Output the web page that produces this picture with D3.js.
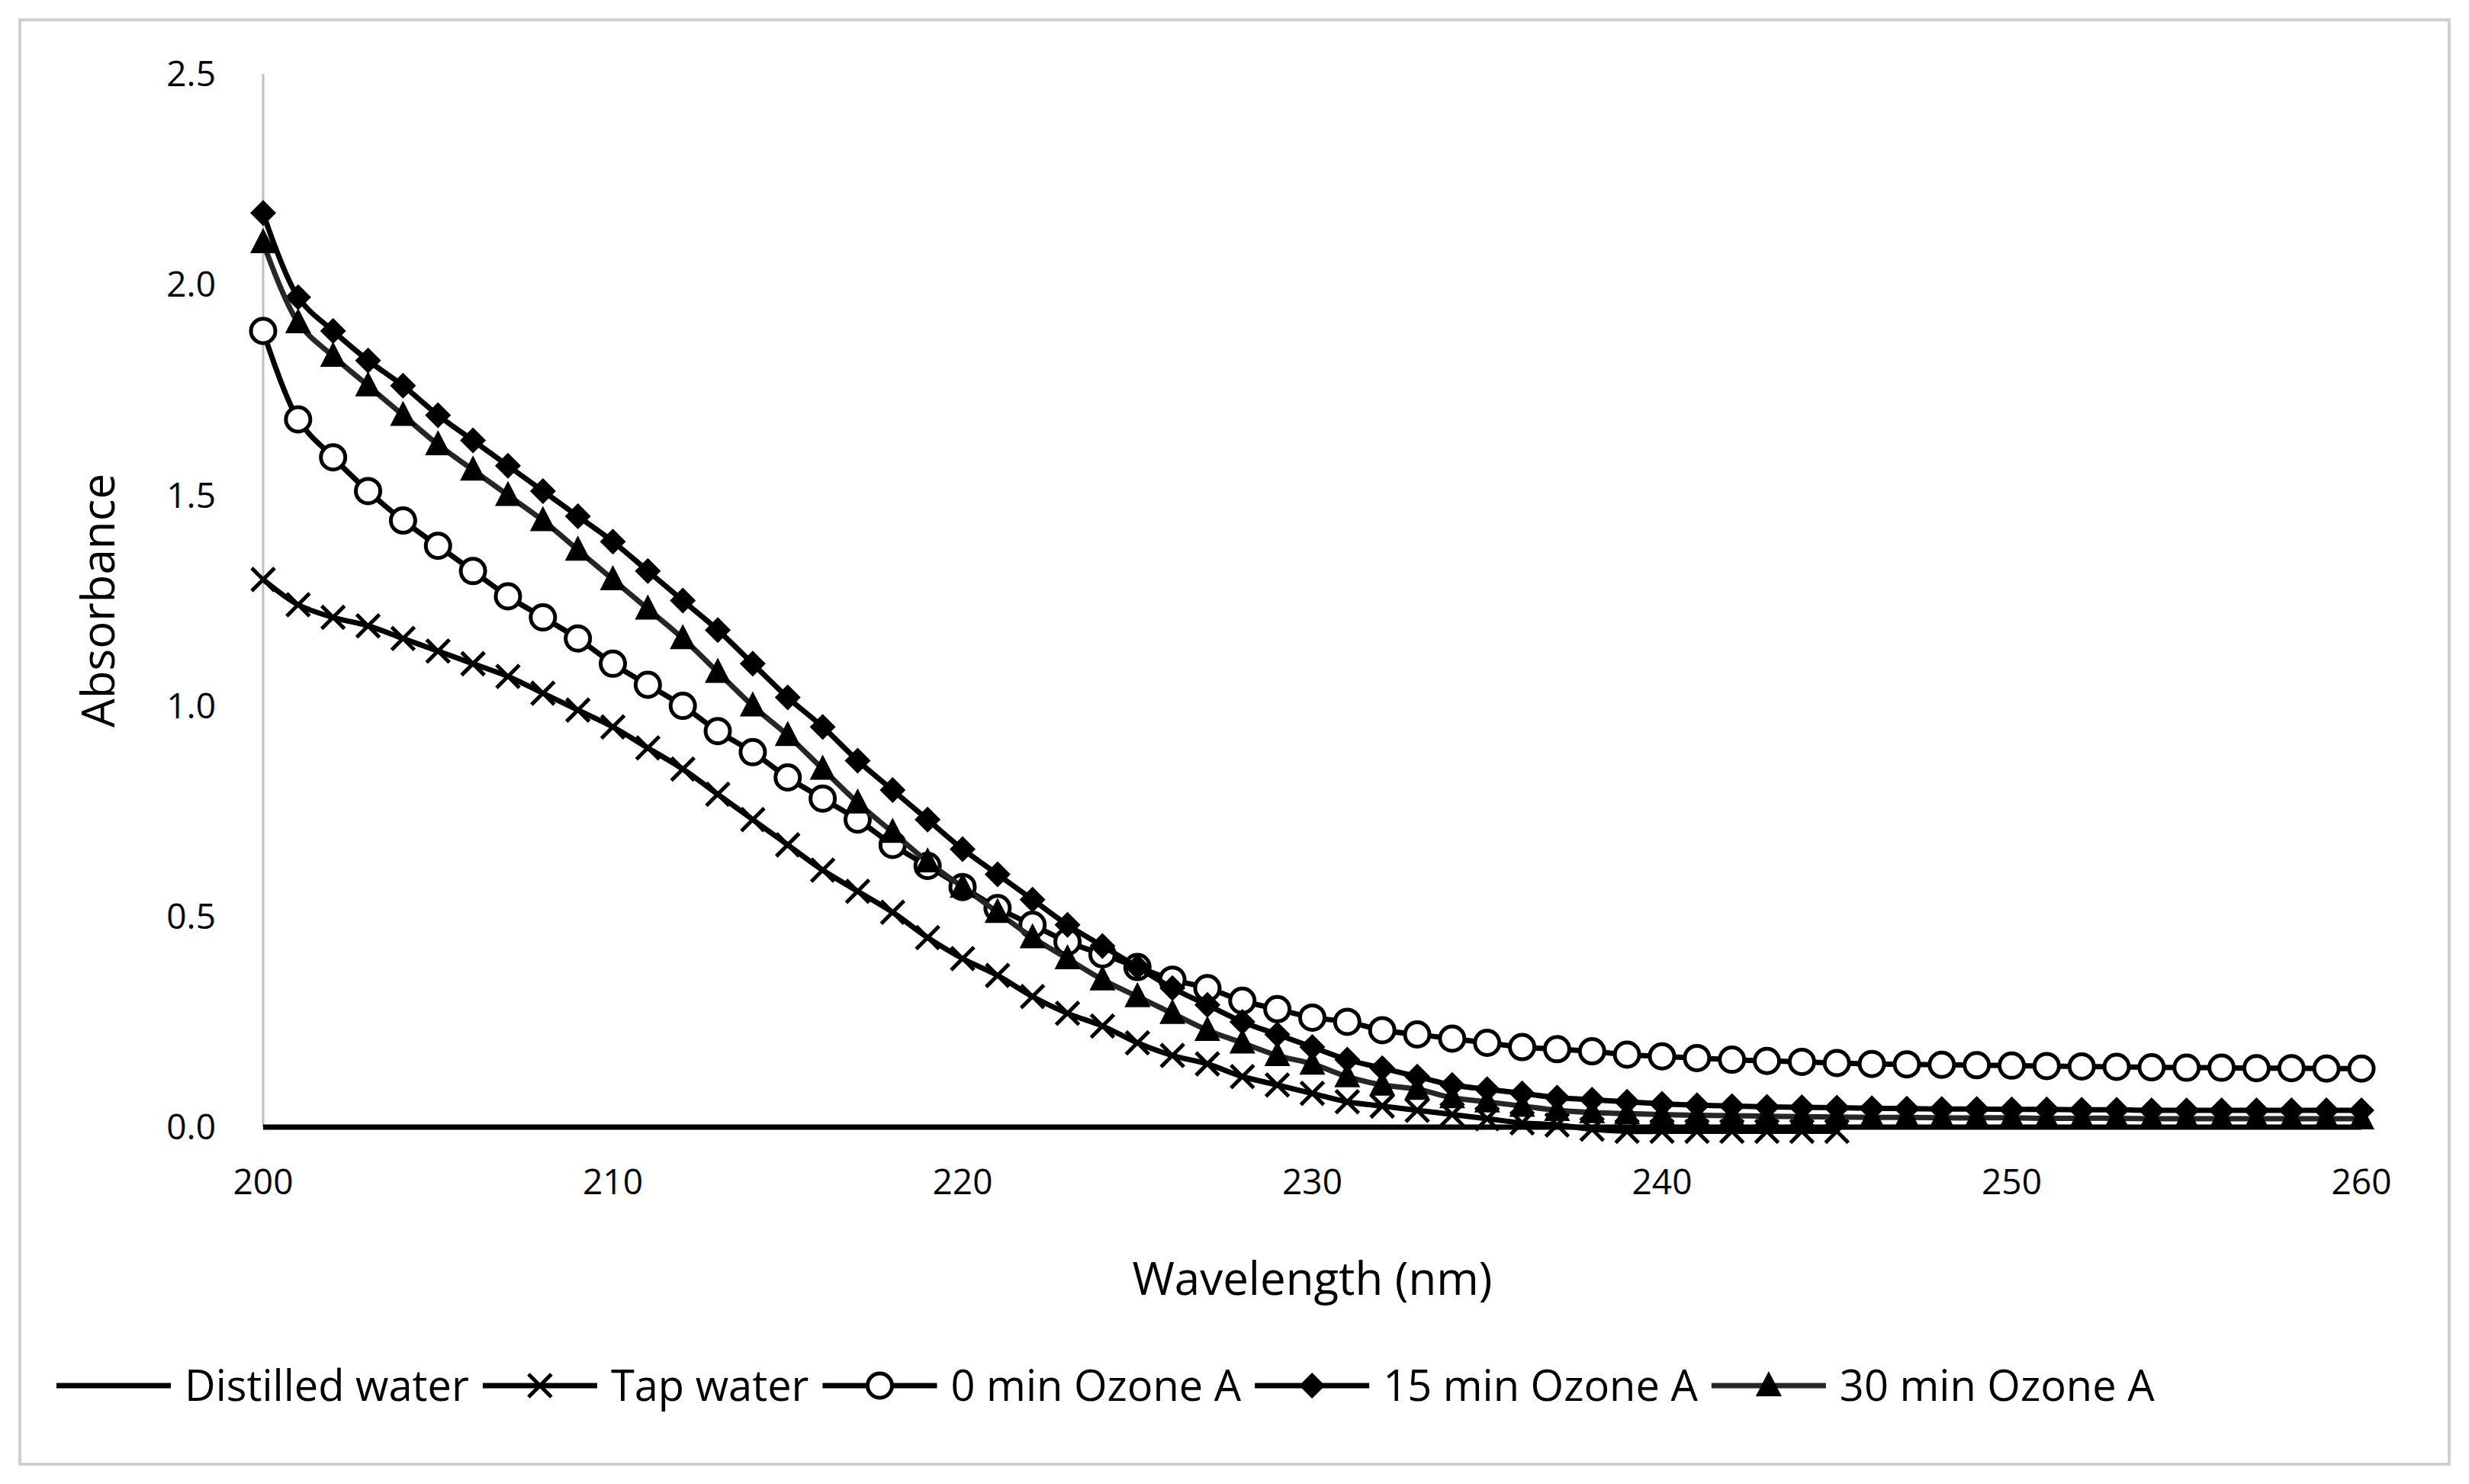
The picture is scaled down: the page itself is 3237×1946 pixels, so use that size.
<!DOCTYPE html>
<html>
<head>
<meta charset="UTF-8">
<script src="https://d3js.org/d3.v7.min.js"></script>
<style>
  body { margin: 0; background: white; }
  text { font-family: "Open Sans", "Liberation Sans", sans-serif; fill: #000; }
</style>
</head>
<body>
<script>
const wavelengths = d3.range(200, 261)
const distilled = wavelengths.map(() => 0)
const tapWater = [1.30, 1.24, 1.21, 1.19, 1.16, 1.13, 1.10, 1.07, 1.03, 0.99,
  0.95, 0.90, 0.85, 0.79, 0.73, 0.67, 0.61, 0.56, 0.51, 0.45,
  0.40, 0.36, 0.31, 0.27, 0.24, 0.20, 0.17, 0.15, 0.12, 0.10,
  0.08, 0.06, 0.05, 0.04, 0.03, 0.02, 0.01, 0.005, -0.005, -0.01,
  -0.01, -0.01, -0.01, -0.01, -0.01, -0.01]
const ozone0 = [1.89, 1.68, 1.59, 1.51, 1.44, 1.38, 1.32, 1.26, 1.21, 1.16,
  1.10, 1.05, 1.00, 0.94, 0.89, 0.83, 0.78, 0.73, 0.67, 0.62,
  0.57, 0.52, 0.48, 0.44, 0.41, 0.38, 0.35, 0.33, 0.30, 0.28,
  0.26, 0.25, 0.23, 0.22, 0.21, 0.20, 0.19, 0.185, 0.18, 0.172,
  0.168, 0.164, 0.16, 0.157, 0.155, 0.152, 0.15, 0.149, 0.148, 0.147,
  0.146, 0.145, 0.144, 0.143, 0.142, 0.141, 0.141, 0.14, 0.14, 0.139, 0.139]
const ozone15 = [2.17, 1.97, 1.89, 1.82, 1.76, 1.69, 1.63, 1.57, 1.51, 1.45,
  1.39, 1.32, 1.25, 1.18, 1.10, 1.02, 0.95, 0.87, 0.80, 0.73,
  0.66, 0.60, 0.54, 0.48, 0.43, 0.38, 0.33, 0.29, 0.25, 0.22,
  0.19, 0.16, 0.14, 0.12, 0.10, 0.09, 0.08, 0.07, 0.065, 0.06,
  0.055, 0.052, 0.05, 0.048, 0.047, 0.046, 0.045, 0.044, 0.043, 0.043,
  0.042, 0.042, 0.041, 0.041, 0.04, 0.04, 0.04, 0.04, 0.04, 0.04, 0.04]
const ozone30 = [2.10, 1.91, 1.83, 1.76, 1.69, 1.62, 1.56, 1.50, 1.44, 1.37,
  1.30, 1.23, 1.16, 1.08, 1.00, 0.93, 0.85, 0.77, 0.70, 0.63,
  0.57, 0.51, 0.45, 0.40, 0.35, 0.31, 0.27, 0.23, 0.20, 0.17,
  0.15, 0.12, 0.10, 0.09, 0.07, 0.06, 0.05, 0.04, 0.035, 0.032,
  0.03, 0.028, 0.027, 0.026, 0.025, 0.024, 0.023, 0.023, 0.022, 0.022,
  0.022, 0.021, 0.021, 0.021, 0.02, 0.02, 0.02, 0.02, 0.02, 0.02, 0.02]
const xTicks = [200, 210, 220, 230, 240, 250, 260]
const yTicks = [0, 0.5, 1.0, 1.5, 2.0, 2.5]

const series = [
  { name: 'Distilled water', values: distilled, marker: 'none', color: '#000' },
  { name: 'Tap water', values: tapWater, marker: 'x', color: '#000' },
  { name: '0 min Ozone A', values: ozone0, marker: 'circle', color: '#000' },
  { name: '15 min Ozone A', values: ozone15, marker: 'diamond', color: '#000' },
  { name: '30 min Ozone A', values: ozone30, marker: 'triangle', color: '#262626' }
]

const W = 3237, H = 1946
const svg = d3.select('body').append('svg').attr('width', W).attr('height', H)
svg.append('rect').attr('x', 26).attr('y', 26).attr('width', W - 52).attr('height', H - 52)
  .attr('fill', 'white').attr('stroke', '#d0d0d0').attr('stroke-width', 4)

const x = d3.scaleLinear().domain([200, 260]).range([345, 3096])
const y = d3.scaleLinear().domain([0, 2.5]).range([1478, 97])

// axes
svg.append('line').attr('x1', x(200)).attr('x2', x(200)).attr('y1', y(2.5)).attr('y2', y(0))
  .attr('stroke', '#bfbfbf').attr('stroke-width', 3)
svg.append('line').attr('x1', x(200)).attr('x2', x(260)).attr('y1', y(0)).attr('y2', y(0))
  .attr('stroke', '#bfbfbf').attr('stroke-width', 3)

svg.selectAll('.ytick').data(yTicks).join('text')
  .attr('x', x(200) - 62).attr('y', d => y(d)).attr('dy', '0.35em')
  .attr('text-anchor', 'end').style('font-size', '46px')
  .text(d => d.toFixed(1))
svg.selectAll('.xtick').data(xTicks).join('text')
  .attr('x', d => x(d)).attr('y', y(0) + 88)
  .attr('text-anchor', 'middle').style('font-size', '46px')
  .text(d => d)

svg.append('text').attr('x', x(230)).attr('y', 1698).attr('text-anchor', 'middle')
  .style('font-size', '60px').text('Wavelength (nm)')
svg.append('text').attr('transform', `translate(150, ${y(1.25)}) rotate(-90)`)
  .attr('text-anchor', 'middle').style('font-size', '60px').text('Absorbance')

function drawMarker(g, type, cx, cy, color) {
  if (type === 'circle') {
    g.append('circle').attr('cx', cx).attr('cy', cy).attr('r', 16)
      .attr('fill', 'white').attr('stroke', color).attr('stroke-width', 5)
  } else if (type === 'diamond') {
    g.append('path').attr('transform', `translate(${cx},${cy})`)
      .attr('d', 'M0,-17L17,0L0,17L-17,0Z').attr('fill', color)
  } else if (type === 'triangle') {
    g.append('path').attr('transform', `translate(${cx},${cy})`)
      .attr('d', 'M0,-19L17,14L-17,14Z').attr('fill', '#000')
  } else if (type === 'x') {
    g.append('path').attr('transform', `translate(${cx},${cy})`)
      .attr('d', 'M-15,-15L15,15M-15,15L15,-15').attr('stroke', color).attr('stroke-width', 5)
  }
}

const line = d3.line().x((d, i) => x(wavelengths[i])).y(d => y(d)).curve(d3.curveCatmullRom)

series.forEach(s => {
  const g = svg.append('g')
  g.append('path').datum(s.values).attr('d', line)
    .attr('fill', 'none').attr('stroke', s.color).attr('stroke-width', 7)
  if (s.marker !== 'none') {
    s.values.forEach((v, i) => drawMarker(g, s.marker, x(wavelengths[i]), y(v), s.color))
  }
})

// legend
const legend = svg.append('g')
let lx = 74
const ly = 1817
series.forEach(s => {
  legend.append('line').attr('x1', lx).attr('x2', lx + 150).attr('y1', ly).attr('y2', ly)
    .attr('stroke', s.color).attr('stroke-width', 7)
  if (s.marker !== 'none') drawMarker(legend, s.marker, lx + 75, ly, s.color)
  const t = legend.append('text').attr('x', lx + 168).attr('y', ly).attr('dy', '0.35em')
    .style('font-size', '56px').text(s.name)
  lx += 168 + t.node().getComputedTextLength() + 18
})
</script>
</body>
</html>
